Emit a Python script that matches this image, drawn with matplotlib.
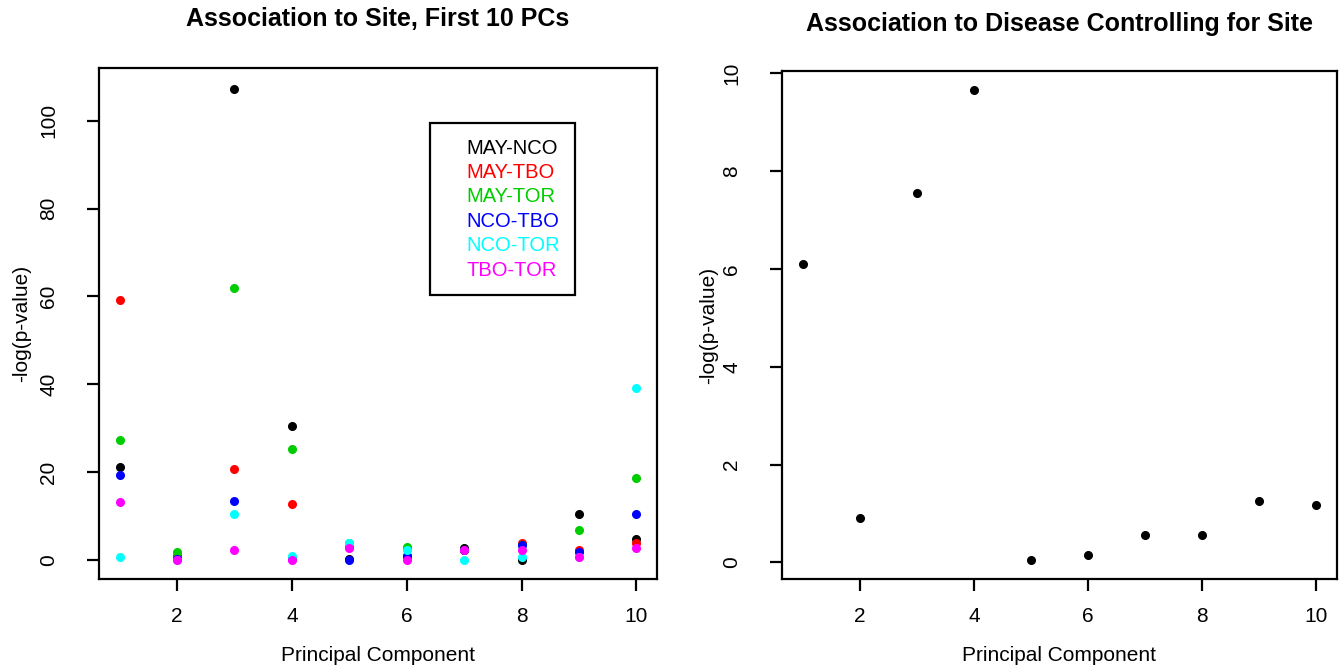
"""
PCA site / disease association plots (R base-graphics look)
"""
import matplotlib
matplotlib.use('Agg')
import matplotlib.pyplot as plt
from matplotlib.patches import Rectangle

# ── dados ────────────────────────────────────────────────────────────────
pcs = [1, 2, 3, 4, 5, 6, 7, 8, 9, 10]

site_pairs = ['MAY-NCO', 'MAY-TBO', 'MAY-TOR', 'NCO-TBO', 'NCO-TOR', 'TBO-TOR']
may_nco = [21.2, 0.8, 107.3, 30.5, 0.2, 0.9, 2.7, 0.1, 10.4, 4.8]
may_tbo = [59.3, 1.0, 20.8, 12.7, 2.9, 2.5, 2.4, 3.8, 2.2, 4.0]
may_tor = [27.4, 1.9, 62.0, 25.4, 3.8, 2.9, 2.3, 3.4, 6.8, 18.8]
nco_tbo = [19.3, 0.3, 13.4, 0.3, 0.0, 1.0, 2.2, 3.4, 1.8, 10.6]
nco_tor = [0.6, 0.1, 10.6, 0.9, 4.0, 2.3, 0.1, 0.6, 0.7, 39.1]
tbo_tor = [13.2, 0.1, 2.2, 0.0, 2.7, 0.0, 2.3, 2.3, 0.6, 2.8]
site_vals = [may_nco, may_tbo, may_tor, nco_tbo, nco_tor, tbo_tor]

disease = [6.11, 0.90, 7.56, 9.67, 0.04, 0.15, 0.56, 0.57, 1.26, 1.18]

CORES = ['black', '#FF0000', '#00CD00', '#0000FF', '#00FFFF', '#FF00FF']

plt.rcParams.update({'font.family': 'Liberation Sans', 'font.size': 14})

W, H = 1340, 672
fig = plt.figure(figsize=(W / 100, H / 100), dpi=100)
ax1 = fig.add_axes([99 / W, 1 - 579 / H, 558 / W, 511 / H])
ax2 = fig.add_axes([782 / W, 1 - 579 / H, 555 / W, 508 / H])


def estilo(ax):
    for s in ax.spines.values():
        s.set_linewidth(1.6)
    ax.tick_params(direction='out', length=8.4, width=1.6, labelsize=15)
    ax.tick_params(axis='x', pad=12)
    ax.tick_params(axis='y', pad=21, labelrotation=90)
    for lab in ax.get_yticklabels():
        lab.set_va('center')
    ax.set_xticks([2, 4, 6, 8, 10])
    ax.set_xlim(0.64, 10.36)


# ── painel 1: associacao com site ───────────────────────────────────────────
for vals, cor in zip(site_vals, CORES):
    ax1.plot(pcs, vals, 'o', ms=5.5, color=cor, mec=cor, ls='none')
ax1.set_ylim(-4.3, 112)
ax1.set_yticks([0, 20, 40, 60, 80, 100])
estilo(ax1)
ax1.set_title('Association to Site, First 10 PCs', fontsize=18,
              fontweight='bold', pad=30)
ax1.set_xlabel('Principal Component', fontsize=15)
ax1.xaxis.set_label_coords(0.5, -0.131)
ax1.set_ylabel('-log(p-value)', fontsize=15)
ax1.yaxis.set_label_coords(-0.122, 0.5)

# legenda estilo R (so texto colorido dentro de uma caixa)
ax1.add_patch(Rectangle((0.593, 0.556), 0.260, 0.337, transform=ax1.transAxes,
                        fill=False, lw=1.6, ec='black', zorder=5))
for i, (nome, cor) in enumerate(zip(site_pairs, CORES)):
    ax1.text(0.659, 0.843 - i * 0.0477, nome, color=cor, fontsize=14.5,
             va='center', ha='left', transform=ax1.transAxes)

# ── painel 2: associacao com doenca ─────────────────────────────────────────
ax2.plot(pcs, disease, 'o', ms=5.5, color='black', ls='none')
ax2.set_ylim(-0.34, 10.05)
ax2.set_yticks([0, 2, 4, 6, 8, 10])
estilo(ax2)
ax2.set_title('Association to Disease Controlling for Site', fontsize=18,
              fontweight='bold', pad=29)
ax2.set_xlabel('Principal Component', fontsize=15)
ax2.xaxis.set_label_coords(0.5, -0.131)
ax2.set_ylabel('-log(p-value)', fontsize=15)
ax2.yaxis.set_label_coords(-0.115, 0.5)

fig.savefig('out.png', dpi=100)
plt.close()
